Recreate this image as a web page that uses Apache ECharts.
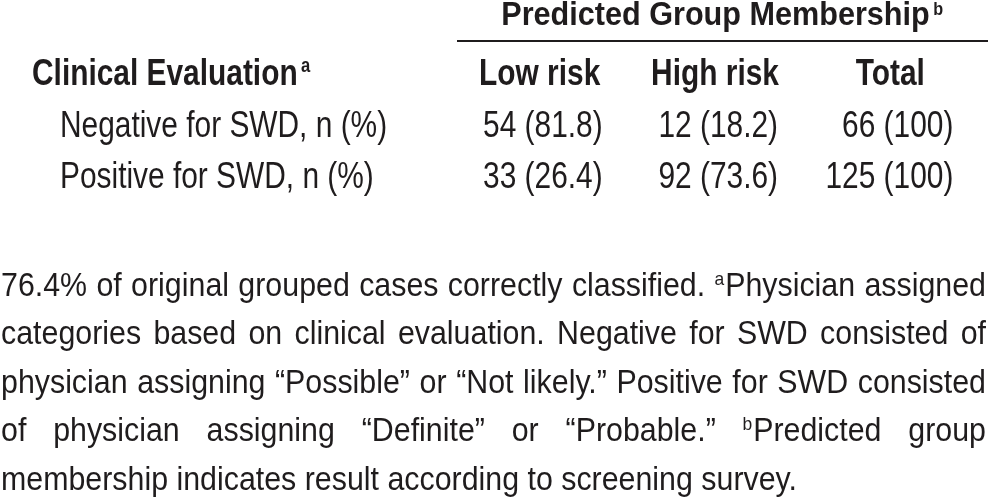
<!DOCTYPE html>
<html>
<head>
<meta charset="utf-8">
<script src="https://cdn.jsdelivr.net/npm/echarts@6/dist/echarts.min.js"></script>
<style>
html,body{margin:0;padding:0;background:#ffffff;}
#chart{width:990px;height:500px;}
</style>
</head>
<body>
<div id="chart"></div>
<script>
// ---------- data ----------
const groupTitle = 'Predicted Group Membership';
const groupTitleNote = 'b';
const stubTitle = 'Clinical Evaluation';
const stubTitleNote = 'a';
const columns = ['Low risk', 'High risk', 'Total'];
const rowLabels = ['Negative for SWD, n (%)', 'Positive for SWD, n (%)'];
const lowRiskN = [54, 33];
const lowRiskPct = ['81.8', '26.4'];
const highRiskN = [12, 92];
const highRiskPct = ['18.2', '73.6'];
const totalN = [66, 125];
const totalPct = ['100', '100'];
const footnoteLines = [
  '76.4% of original grouped cases correctly classified. ^aPhysician assigned',
  'categories based on clinical evaluation. Negative for SWD consisted of',
  'physician assigning \u201CPossible\u201D or \u201CNot likely.\u201D Positive for SWD consisted',
  'of physician assigning \u201CDefinite\u201D or \u201CProbable.\u201D ^bPredicted group',
  'membership indicates result according to screening survey.'
];

// ---------- styles ----------
const FAMILY = '"Liberation Sans", Arial, sans-serif';
const INK = '#1f1c1d';
const TABLE = { fs: 36, scaleX: 0.83, stubX: 32, rowX: 60, valueOffset: 63, supFs: 20, supRaise: 15 };
const TITLE = { fs: 34, scaleX: 0.9, cx: 715.5, y: 15.2, supFs: 18, supRaise: 11 };
const RULE = { x1: 457, x2: 988, y: 41, w: 2 };
const FOOT = { fs: 33, scaleX: 0.92, left: 1, right: 986, firstMid: 286.6, step: 48.5, supFs: 19, supRaise: 12 };

const mctx = document.createElement('canvas').getContext('2d');
function measure(text, size, weight) {
  mctx.font = (weight || 'normal') + ' ' + size + 'px ' + FAMILY;
  return mctx.measureText(text).width;
}
function txt(text, x, y, size, weight, align) {
  return {
    type: 'text', x: x, y: y,
    style: { text: text, fontSize: size, fontFamily: FAMILY, fontWeight: weight || 'normal',
             fill: INK, align: align || 'left', verticalAlign: 'middle' }
  };
}

// ---------- table cells ----------
const rowCats = ['header'].concat(rowLabels);
const cells = [];
columns.forEach((c, i) => cells.push({ value: [i, 0], kind: 'colhead', text: c }));
cells.push({ value: [0, 0], kind: 'stub', text: stubTitle, note: stubTitleNote });
rowLabels.forEach((r, j) => cells.push({ value: [0, j + 1], kind: 'rowlabel', text: r }));
rowLabels.forEach((r, j) => {
  cells.push({ value: [0, j + 1], kind: 'value', text: lowRiskN[j] + ' (' + lowRiskPct[j] + ')' });
  cells.push({ value: [1, j + 1], kind: 'value', text: highRiskN[j] + ' (' + highRiskPct[j] + ')' });
  cells.push({ value: [2, j + 1], kind: 'value', text: totalN[j] + ' (' + totalPct[j] + ')' });
});

function renderItem(params, api) {
  const d = cells[params.dataIndex];
  const pt = api.coord([api.value(0), api.value(1)]);
  if (d.kind === 'colhead') {
    const el = txt(d.text, pt[0], pt[1], TABLE.fs, 'bold', 'center');
    el.scaleX = TABLE.scaleX;
    return el;
  }
  if (d.kind === 'value') {
    const el = txt(d.text, pt[0] + TABLE.valueOffset, pt[1], TABLE.fs, 'normal', 'right');
    el.scaleX = TABLE.scaleX;
    return el;
  }
  if (d.kind === 'rowlabel') {
    const el = txt(d.text, TABLE.rowX, pt[1], TABLE.fs, 'normal', 'left');
    el.scaleX = TABLE.scaleX;
    return el;
  }
  // stub header with superscript
  const w = measure(d.text, TABLE.fs, 'bold');
  const supMid = (TABLE.fs * 0.3465 - TABLE.supRaise) - TABLE.supFs * 0.3465;
  return {
    type: 'group', x: TABLE.stubX, y: pt[1], scaleX: TABLE.scaleX,
    children: [
      txt(d.text, 0, 0, TABLE.fs, 'bold', 'left'),
      txt(d.note, w + 4, supMid, TABLE.supFs, 'bold', 'left')
    ]
  };
}

// ---------- graphics: title, rule, footnote ----------
const graphics = [];
(function () {
  const w = measure(groupTitle, TITLE.fs, 'bold');
  const supMid = (TITLE.fs * 0.3465 - TITLE.supRaise) - TITLE.supFs * 0.3465;
  graphics.push({
    type: 'group', x: TITLE.cx, y: TITLE.y, scaleX: TITLE.scaleX,
    children: [
      txt(groupTitle, -w / 2, 0, TITLE.fs, 'bold', 'left'),
      txt(groupTitleNote, w / 2 + 4, supMid, TITLE.supFs, 'bold', 'left')
    ]
  });
})();
graphics.push({
  type: 'line',
  shape: { x1: RULE.x1, y1: RULE.y, x2: RULE.x2, y2: RULE.y },
  style: { stroke: INK, lineWidth: RULE.w }
});
footnoteLines.forEach((line, li) => {
  const parts = line.split(' ').map(word => {
    let sup = null, body = word;
    const m = word.match(/^\^(\w)(.*)$/);
    if (m) { sup = m[1]; body = m[2]; }
    const sw = sup ? measure(sup, FOOT.supFs) + 1 : 0;
    const bw = measure(body, FOOT.fs);
    return { sup: sup, body: body, sw: sw, w: sw + bw };
  });
  const total = parts.reduce((a, p) => a + p.w, 0);
  const avail = (FOOT.right - FOOT.left) / FOOT.scaleX;
  const justify = li < footnoteLines.length - 1;
  const gap = justify ? (avail - total) / (parts.length - 1) : measure(' ', FOOT.fs);
  const supMid = (FOOT.fs * 0.3465 - FOOT.supRaise) - FOOT.supFs * 0.3465;
  const children = [];
  let x = 0;
  parts.forEach(p => {
    if (p.sup) children.push(txt(p.sup, x, supMid, FOOT.supFs, 'normal', 'left'));
    children.push(txt(p.body, x + p.sw, 0, FOOT.fs, 'normal', 'left'));
    x += p.w + gap;
  });
  graphics.push({
    type: 'group', x: FOOT.left, y: FOOT.firstMid + li * FOOT.step, scaleX: FOOT.scaleX,
    children: children
  });
});

// ---------- chart ----------
const chart = echarts.init(document.getElementById('chart'), null, { renderer: 'canvas' });
chart.setOption({
  backgroundColor: '#ffffff',
  animation: false,
  grid: { left: 452, right: 12, top: 49.75, height: 154.5 },
  xAxis: { type: 'category', data: columns, show: false },
  yAxis: { type: 'category', data: rowCats, inverse: true, show: false },
  graphic: graphics,
  series: [{
    type: 'custom',
    coordinateSystem: 'cartesian2d',
    renderItem: renderItem,
    data: cells.map(c => c.value),
    clip: false,
    silent: true
  }]
});
</script>
</body>
</html>
